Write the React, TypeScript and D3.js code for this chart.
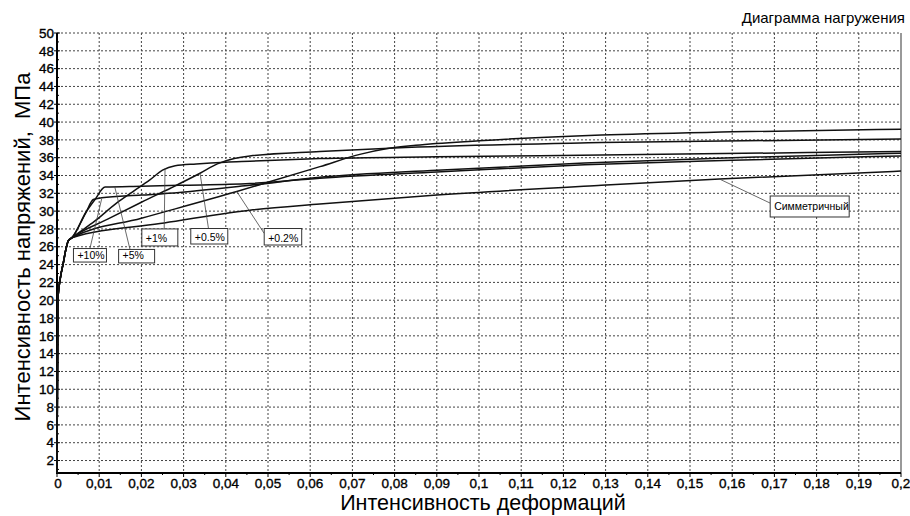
import React from "react";
import * as d3 from "d3";

// Диаграмма нагружения: интенсивность деформаций (x) / интенсивность напряжений, МПа (y)
const xTicks = [0, 0.01, 0.02, 0.03, 0.04, 0.05, 0.06, 0.07, 0.08, 0.09, 0.1, 0.11, 0.12, 0.13, 0.14, 0.15, 0.16, 0.17, 0.18, 0.19, 0.2];
const xTickLabels = ["0", "0,01", "0,02", "0,03", "0,04", "0,05", "0,06", "0,07", "0,08", "0,09", "0,1", "0,11", "0,12", "0,13", "0,14", "0,15", "0,16", "0,17", "0,18", "0,19", "0,2"];
const yTicks = [2, 4, 6, 8, 10, 12, 14, 16, 18, 20, 22, 24, 26, 28, 30, 32, 34, 36, 38, 40, 42, 44, 46, 48, 50];

// [strain, stress]
const symmetric: [number, number][] = [
  [0, 0.6], [0.0002, 20], [0.0008, 22.5], [0.0015, 24.2], [0.0021, 25.7], [0.0027, 26.7], [0.0035, 27.0],
  [0.0244, 28.6], [0.0457, 30.1], [0.0623, 30.8], [0.09, 31.8], [0.129, 32.9], [0.157, 33.6], [0.2, 34.5],
];
const plus02: [number, number][] = [
  [0, 0.6], [0.0002, 20], [0.0008, 22.5], [0.0015, 24.2], [0.0021, 25.7], [0.0027, 26.7], [0.0035, 27.0],
  [0.02, 29.2], [0.0426, 32.2], [0.0623, 35.0], [0.072, 36.4], [0.078, 37.0], [0.085, 37.4], [0.1, 37.9],
  [0.129, 38.55], [0.16, 38.9], [0.2, 39.2],
];
const plus05: [number, number][] = [
  [0, 0.6], [0.0002, 20], [0.0008, 22.5], [0.0015, 24.2], [0.0021, 25.7], [0.0027, 26.7], [0.0035, 27.0],
  [0.012, 29.1], [0.02, 31.0], [0.027, 32.6], [0.0339, 34.25], [0.038, 35.3], [0.042, 35.9], [0.0457, 36.2],
  [0.0623, 36.7], [0.08, 37.1], [0.129, 37.7], [0.2, 38.1],
];
const plus1: [number, number][] = [
  [0, 0.6], [0.0002, 20], [0.0008, 22.5], [0.0015, 24.2], [0.0021, 25.7], [0.0027, 26.7], [0.0035, 27.0],
  [0.009, 28.9], [0.0141, 30.9], [0.018, 32.2], [0.022, 33.5], [0.025, 34.6], [0.028, 35.1], [0.033, 35.3],
  [0.04, 35.5], [0.0457, 35.6], [0.0623, 35.9], [0.09, 36.1], [0.129, 36.3], [0.2, 36.7],
];
const plus5: [number, number][] = [
  [0, 0.6], [0.0002, 20], [0.0008, 22.5], [0.0015, 24.2], [0.0021, 25.7], [0.0027, 26.7], [0.0035, 27.0],
  [0.0069, 29.9], [0.009, 31.3], [0.0114, 32.7], [0.02, 32.8], [0.029, 32.9], [0.0457, 33.1], [0.0623, 33.7],
  [0.09, 34.4], [0.125, 35.2], [0.16, 35.7], [0.2, 36.2],
];
const plus10: [number, number][] = [
  [0, 0.6], [0.0002, 20], [0.0008, 22.5], [0.0015, 24.2], [0.0021, 25.7], [0.0027, 26.7], [0.0035, 27.0],
  [0.0069, 29.9], [0.0086, 31.3], [0.0106, 31.5], [0.02, 31.8], [0.029, 32.1], [0.0457, 32.9], [0.0623, 33.8],
  [0.09, 34.6], [0.125, 35.4], [0.16, 36.0], [0.2, 36.5],
];
const series = [symmetric, plus02, plus05, plus1, plus5, plus10];

// callouts: point on curve, leader end at box, box top-left (all in data units)
const labels = [
  { text: "+10%", cx: 0.0106, cy: 31.4, lx: 0.0078, ly: 25.8, bx: 0.0039, by: 25.8, w: 33, h: 13.5 },
  { text: "+5%", cx: 0.0137, cy: 32.7, lx: 0.0173, ly: 25.7, bx: 0.0146, by: 25.7, w: 36, h: 13.5 },
  { text: "+1%", cx: 0.0256, cy: 34.8, lx: 0.0254, ly: 28.0, bx: 0.0201, by: 28.0, w: 36, h: 17 },
  { text: "+0.5%", cx: 0.0339, cy: 34.25, lx: 0.0359, ly: 28.05, bx: 0.0317, by: 28.05, w: 37, h: 15.5 },
  { text: "+0.2%", cx: 0.0426, cy: 32.2, lx: 0.0491, ly: 27.5, bx: 0.0491, by: 28.05, w: 37.5, h: 16.5 },
  { text: "Симметричный", cx: 0.157, cy: 33.6, lx: 0.169, ly: 30.9, bx: 0.169, by: 31.7, w: 79, h: 21 },
];

const font = "'Liberation Sans', Arial, sans-serif";

export default function App() {
  const width = 910;
  const height = 516;
  const x = d3.scaleLinear().domain([0, 0.2]).range([57, 901]);
  const y = d3.scaleLinear().domain([0.6, 50]).range([473, 33]);
  const line = d3
    .line<[number, number]>()
    .x((d) => x(d[0]))
    .y((d) => y(d[1]))
    .curve(d3.curveMonotoneX);

  const minorX = d3.range(0.005, 0.2, 0.01);
  const minorY = d3.range(1, 50, 2);

  return (
    <svg width={width} height={height} style={{ position: "absolute", left: 0, top: 0, background: "#fff" }} fontFamily={font}>
      {/* grid */}
      <g stroke="#444" strokeWidth={1} strokeDasharray="2 2">
        {xTicks.slice(1, -1).map((t) => (
          <line key={"gx" + t} x1={x(t)} x2={x(t)} y1={y(50)} y2={y(0.6)} />
        ))}
        {yTicks.map((t) => (
          <line key={"gy" + t} x1={x(0)} x2={x(0.2)} y1={y(t)} y2={y(t)} />
        ))}
      </g>

      {/* frame */}
      <line x1={x(0.2)} x2={x(0.2)} y1={y(50)} y2={y(0.6)} stroke="#999" strokeWidth={2} />
      <line x1={x(0)} x2={x(0)} y1={y(50)} y2={y(0.6) + 1} stroke="#000" strokeWidth={2} />
      <line x1={x(0) - 1} x2={x(0.2)} y1={y(0.6)} y2={y(0.6)} stroke="#000" strokeWidth={2} />

      {/* ticks */}
      <g stroke="#000" strokeWidth={1}>
        {yTicks.map((t) => (
          <line key={"ty" + t} x1={x(0) - 3} x2={x(0) + 3} y1={y(t)} y2={y(t)} />
        ))}
        {minorY.map((t) => (
          <line key={"my" + t} x1={x(0)} x2={x(0) + 2} y1={y(t)} y2={y(t)} />
        ))}
        {xTicks.map((t) => (
          <line key={"tx" + t} x1={x(t)} x2={x(t)} y1={y(0.6)} y2={y(0.6) + 4} />
        ))}
        {minorX.map((t) => (
          <line key={"mx" + t} x1={x(t)} x2={x(t)} y1={y(0.6)} y2={y(0.6) + 2} />
        ))}
      </g>

      {/* tick labels */}
      <g fontSize={13.5} fill="#000" stroke="#000" strokeWidth={0.35}>
        {yTicks.map((t) => (
          <text key={"ly" + t} x={x(0) - 3} y={y(t)} dy="0.35em" textAnchor="end">
            {t}
          </text>
        ))}
        {xTicks.map((t, i) => (
          <text key={"lx" + t} x={x(t) + (i === 0 ? 1 : 0)} y={488} textAnchor="middle">
            {xTickLabels[i]}
          </text>
        ))}
      </g>

      {/* curves */}
      <g fill="none" stroke="#111" strokeWidth={1.5}>
        {series.map((s, i) => (
          <path key={"s" + i} d={line(s) || ""} />
        ))}
      </g>

      {/* callouts */}
      {labels.map((l) => (
        <g key={l.text}>
          <line x1={x(l.cx)} y1={y(l.cy)} x2={x(l.lx)} y2={y(l.ly)} stroke="#444" strokeWidth={0.8} />
          <rect x={x(l.bx)} y={y(l.by)} width={l.w} height={l.h} fill="#fff" stroke="#333" strokeWidth={1} />
          <text x={x(l.bx) + 4} y={y(l.by) + l.h - (l.h > 18 ? 7 : 3.5)} fontSize={l.text.length > 6 ? 10.5 : 10.5} fill="#000">
            {l.text}
          </text>
        </g>
      ))}

      {/* titles */}
      <text x={905} y={23} fontSize={15} textAnchor="end" fill="#000">
        Диаграмма нагружения
      </text>
      <text x={483} y={510} fontSize={21.5} textAnchor="middle" fill="#000">
        Интенсивность деформаций
      </text>
      <text transform="translate(30,247) rotate(-90)" fontSize={22} textAnchor="middle" fill="#000" style={{ whiteSpace: "pre" }}>
        {"Интенсивность напряжений,  МПа"}
      </text>
    </svg>
  );
}
